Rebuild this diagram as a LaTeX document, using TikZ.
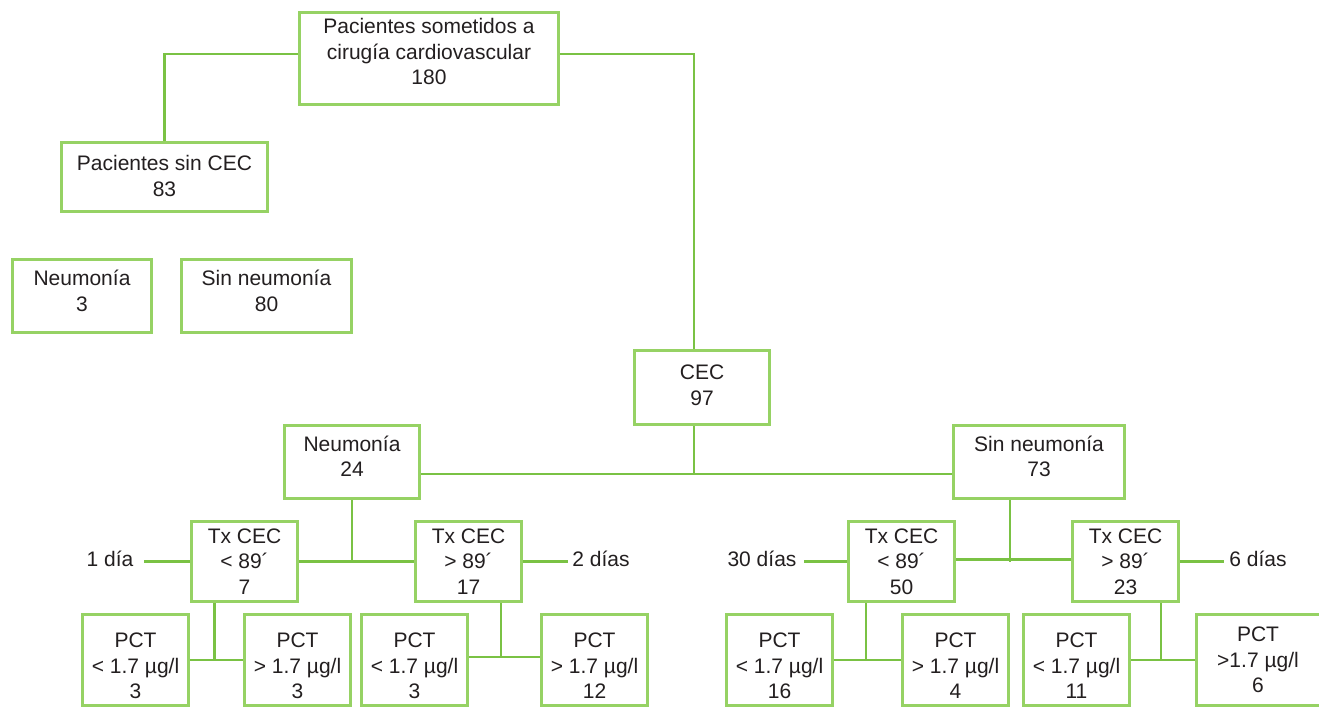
\documentclass[tikz,border=0pt]{standalone}
\usepackage{fontspec}
\setmainfont{Liberation Sans}
\definecolor{boxgreen}{RGB}{150,210,100}
\definecolor{linegreen}{RGB}{122,194,68}
\definecolor{txtgray}{RGB}{35,31,32}
\newcommand\mybox[7]{%
 \pgfmathsetmacro\cx{(#2+#4)/2}\pgfmathsetmacro\cy{(#3+#5)/2}%
 \pgfmathsetmacro\ww{#4-#2-3}\pgfmathsetmacro\hh{#5-#3-3}%
 \node[box,minimum width=\ww pt,minimum height=\hh pt] (#1) at (\cx,\cy) {};
 \node[txt] at ([yshift=#6pt]#1.center) {#7};}
\begin{document}
\begin{tikzpicture}[x=1pt,y=-1pt,
  box/.style={draw=boxgreen,line width=3pt,fill=white,inner sep=0pt},
  txt/.style={font=\fontsize{21}{25.5}\selectfont,text=txtgray,align=center,inner sep=0pt},
  conn/.style={draw=linegreen,line width=2.6pt},
  side/.style={font=\fontsize{21}{25.5}\selectfont,text=txtgray,inner sep=0pt}]
\useasboundingbox (0,0) rectangle (1319,709);
\fill[white] (0,0) rectangle (1319,709);
\coordinate (j1) at (694,474);
% boxes
\mybox{top}{298}{11}{560}{106}{7}{Pacientes sometidos a\\cirugía cardiovascular\\180}
\mybox{sincec}{60}{141}{269}{213}{1}{Pacientes sin CEC\\83}
\mybox{n3}{11}{258}{153}{334}{5}{Neumonía\\3}
\mybox{sn80}{180}{258}{353}{334}{5}{Sin neumonía\\80}
\mybox{cec}{633}{349}{771}{426}{2}{CEC\\97}
\mybox{n24}{283}{424}{421}{500}{5.5}{Neumonía\\24}
\mybox{sn73}{952}{424}{1126}{500}{5.5}{Sin neumonía\\73}
\mybox{t7}{190}{520}{299}{603}{0}{Tx CEC\\< 89´\\7}
\mybox{t17}{414}{520}{523}{603}{0}{Tx CEC\\> 89´\\17}
\mybox{t50}{847}{520}{956}{603}{0}{Tx CEC\\< 89´\\50}
\mybox{t23}{1071}{520}{1180}{603}{0}{Tx CEC\\> 89´\\23}
\mybox{p1}{81}{613}{190}{707}{-6}{PCT\\< 1.7 µg/l\\3}
\mybox{p2}{243}{613}{352}{707}{-6}{PCT\\> 1.7 µg/l\\3}
\mybox{p3}{360}{613}{469}{707}{-6}{PCT\\< 1.7 µg/l\\3}
\mybox{p4}{540}{613}{649}{707}{-6}{PCT\\> 1.7 µg/l\\12}
\mybox{p5}{725}{613}{834}{707}{-6}{PCT\\< 1.7 µg/l\\16}
\mybox{p6}{901}{613}{1010}{707}{-6}{PCT\\> 1.7 µg/l\\4}
\mybox{p7}{1022}{613}{1131}{707}{-6}{PCT\\< 1.7 µg/l\\11}
\mybox{p8}{1195}{613}{1328}{707}{0}{}
\node[txt] at (1258,660) {PCT\\>1.7 µg/l\\6};
% side labels
\node[side] (d1) at (110,559) {1 día};
\node[side] (d2) at (601,559) {2 días};
\node[side] (d30) at (762,559) {30 días};
\node[side] (d6) at (1258,559) {6 días};
% connectors
\draw[conn] ([yshift=4.5pt]top.west) -| (sincec.north);
\draw[conn] ([yshift=4.5pt]top.east) -| ([xshift=-8pt]cec.north);
\draw[conn] ([xshift=-8pt]cec.south) -- (j1);
\draw[conn] ([yshift=-12pt]n24.east) -- ([yshift=-12pt]sn73.west);
\draw[conn] (n24.south) -- (n24.south |- t7.east);
\draw[conn] (t7.east) -- (t17.west);
\draw[conn] ([xshift=-29pt]sn73.south) -- ([xshift=-29pt]sn73.south |- t50.east);
\draw[conn] ([yshift=2pt]t50.east) -- ([yshift=2pt]t23.west);
\draw[conn] (t7.west) -- ([xshift=10pt]d1.east |- t7.west);
\draw[conn] (t17.east) -- ([xshift=-4pt]d2.west |- t17.east);
\draw[conn] (t50.west) -- ([xshift=7pt]d30.east |- t50.west);
\draw[conn] (t23.east) -- ([xshift=-5pt]d6.west |- t23.east);
\draw[conn] ([xshift=-30pt]t7.south) -- ([xshift=-30pt]t7.south |- p1.east);
\draw[conn] (p1.east) -- (p2.west);
\draw[conn] ([xshift=32.5pt]t17.south) -- ([xshift=32.5pt,yshift=3pt]t17.south |- p3.east);
\draw[conn] ([yshift=3pt]p3.east) -- ([yshift=3pt]p4.west);
\draw[conn] ([xshift=-35.5pt]t50.south) -- ([xshift=-35.5pt]t50.south |- p5.east);
\draw[conn] (p5.east) -- (p6.west);
\draw[conn] ([xshift=35.5pt]t23.south) -- ([xshift=35.5pt]t23.south |- p7.east);
\draw[conn] (p7.east) -- (p8.west);
\end{tikzpicture}
\end{document}
